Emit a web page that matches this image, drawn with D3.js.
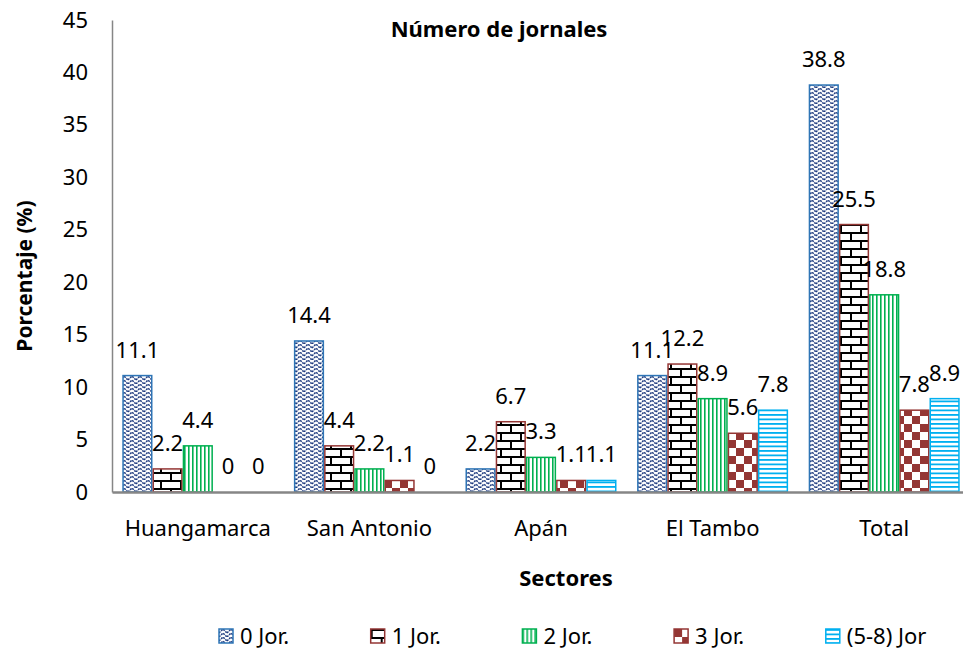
<!DOCTYPE html>
<html>
<head>
<meta charset="utf-8">
<script src="https://cdn.jsdelivr.net/npm/d3@7"></script>
<style>
body { margin: 0; background: #fff; }
text { font-family: "Noto Sans", sans-serif; fill: #000; }
</style>
</head>
<body>
<div id="chart"></div>
<script>
var sectores = ["Huangamarca", "San Antonio", "Apán", "El Tambo", "Total"];
var series = ["0 Jor.", "1 Jor.", "2 Jor.", "3 Jor.", "(5-8) Jor"];
var jor0 = [11.1, 14.4, 2.2, 11.1, 38.8];
var jor1 = [2.2, 4.4, 6.7, 12.2, 25.5];
var jor2 = [4.4, 2.2, 3.3, 8.9, 18.8];
var jor3 = [0, 1.1, 1.1, 5.6, 7.8];
var jor58 = [0, 0, 1.1, 7.8, 8.9];
var yTicks = [0, 5, 10, 15, 20, 25, 30, 35, 40, 45];

var valores = [jor0, jor1, jor2, jor3, jor58];
var bordes = ["#2E75B6", "#943634", "#00B050", "#943634", "#00B0F0"];

var w = 963, h = 653;

var svg = d3.select("#chart").append("svg")
    .attr("width", w)
    .attr("height", h);

// patrones de relleno
var defs = svg.append("defs");

var p0 = defs.append("pattern").attr("id", "pat0").attr("patternUnits", "userSpaceOnUse")
    .attr("width", 8).attr("height", 8);
p0.append("rect").attr("width", 8).attr("height", 8).attr("fill", "#fff");
p0.append("path").attr("d", "M0,4 L4,0 L8,4 M0,8 L4,4 L8,8")
    .attr("fill", "none").attr("stroke", "#1F3B80").attr("stroke-width", 1.5)
    .attr("stroke-dasharray", "2,1");

var p1 = defs.append("pattern").attr("id", "pat1").attr("patternUnits", "userSpaceOnUse")
    .attr("width", 20).attr("height", 16);
p1.append("rect").attr("width", 20).attr("height", 16).attr("fill", "#fff");
p1.append("path").attr("d", "M0,1 H20 M0,9 H20 M1,1 V9 M11,9 V17")
    .attr("fill", "none").attr("stroke", "#000").attr("stroke-width", 2);

var p2 = defs.append("pattern").attr("id", "pat2").attr("patternUnits", "userSpaceOnUse")
    .attr("width", 4).attr("height", 4);
p2.append("rect").attr("width", 4).attr("height", 4).attr("fill", "#fff");
p2.append("rect").attr("x", 0).attr("width", 1.6).attr("height", 4).attr("fill", "#00B050");

var p3 = defs.append("pattern").attr("id", "pat3").attr("patternUnits", "userSpaceOnUse")
    .attr("width", 16).attr("height", 16);
p3.append("rect").attr("width", 16).attr("height", 16).attr("fill", "#fff");
p3.append("rect").attr("width", 8).attr("height", 8).attr("fill", "#943634");
p3.append("rect").attr("x", 8).attr("y", 8).attr("width", 8).attr("height", 8).attr("fill", "#943634");

var p4 = defs.append("pattern").attr("id", "pat4").attr("patternUnits", "userSpaceOnUse")
    .attr("width", 4).attr("height", 4.5);
p4.append("rect").attr("width", 4).attr("height", 4.5).attr("fill", "#fff");
p4.append("rect").attr("y", 0).attr("width", 4).attr("height", 1.8).attr("fill", "#00B0F0");

// escalas
var x0 = d3.scaleBand().domain(sectores).range([112, 970])
    .paddingInner(0.12).paddingOuter(0.06);
var x1 = d3.scaleBand().domain(series).range([0, x0.bandwidth()]);
var y = d3.scaleLinear().domain([0, 45]).range([492, 20]);

// barras
var grupos = svg.selectAll("g.serie")
    .data(series)
    .enter().append("g")
    .attr("class", "serie");

grupos.each(function (s, i) {
    var g = d3.select(this);
    var datos = valores[i].map(function (v, j) { return { sector: sectores[j], v: v }; });
    g.selectAll("rect")
        .data(datos.filter(function (d) { return d.v > 0; }))
        .enter().append("rect")
        .attr("x", function (d) { return x0(d.sector) + x1(s) + 0.75; })
        .attr("y", function (d) { return y(d.v); })
        .attr("width", x1.bandwidth() - 1.5)
        .attr("height", function (d) { return y(0) - y(d.v); })
        .attr("fill", "url(#pat" + i + ")")
        .attr("stroke", bordes[i])
        .attr("stroke-width", 1.5);
    g.selectAll("text")
        .data(datos)
        .enter().append("text")
        .attr("x", function (d) { return x0(d.sector) + x1(s) + x1.bandwidth() / 2; })
        .attr("y", function (d) { return y(d.v) - 18; })
        .attr("text-anchor", "middle")
        .style("font-size", "22px")
        .text(function (d) { return String(d.v); });
});

// ejes
var yAxis = d3.axisLeft(y).tickValues(yTicks).tickSize(0).tickPadding(24);
var gy = svg.append("g").attr("transform", "translate(112,0)").call(yAxis);
gy.selectAll("text").style("font-size", "22px").style("font-family", "Noto Sans");
gy.select(".domain").attr("stroke", "#868686").attr("stroke-width", 1.5);

var xAxis = d3.axisBottom(x0).tickSize(0).tickPadding(28);
var gx = svg.append("g").attr("transform", "translate(0,492)").call(xAxis);
gx.selectAll("text").style("font-size", "22px").style("font-family", "Noto Sans");
gx.select(".domain").attr("stroke", "#868686").attr("stroke-width", 2.5);

// titulos
svg.append("text").attr("x", 499).attr("y", 37).attr("text-anchor", "middle")
    .style("font-size", "22px").style("font-weight", "bold").text("Número de jornales");
svg.append("text").attr("x", 566).attr("y", 586).attr("text-anchor", "middle")
    .style("font-size", "22px").style("font-weight", "bold").text("Sectores");
svg.append("text").attr("transform", "translate(32,276) rotate(-90)").attr("text-anchor", "middle")
    .style("font-size", "21px").style("font-weight", "bold").text("Porcentaje (%)");

// leyenda
var leyenda = svg.selectAll("g.ley")
    .data(series)
    .enter().append("g")
    .attr("class", "ley")
    .attr("transform", function (d, i) { return "translate(" + (219 + i * 151.7) + ",629)"; });
leyenda.append("rect")
    .attr("width", 14).attr("height", 14)
    .attr("fill", function (d, i) { return "url(#pat" + i + ")"; })
    .attr("stroke", function (d, i) { return bordes[i]; })
    .attr("stroke-width", 1.5);
leyenda.append("text")
    .attr("x", 21).attr("y", 15)
    .style("font-size", "22px")
    .text(function (d) { return d; });
</script>
</body>
</html>
